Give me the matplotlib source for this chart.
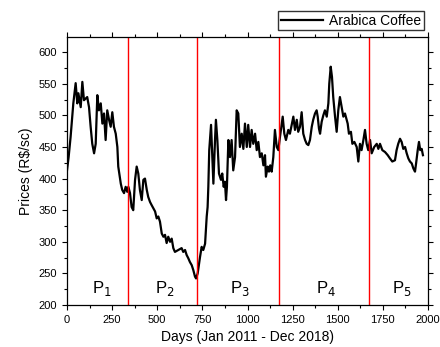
import matplotlib.pyplot as plt

plt.rcParams['font.family'] = ['Liberation Sans', 'DejaVu Sans']

# daily arabica price, sampled points (day index, R$/sc)
days = [0, 9, 20, 35, 48, 57, 63, 76, 85, 94, 112, 122, 131, 140, 150, 159, 168, 177,
        187, 196, 205, 214, 223, 233, 242, 251, 260, 270, 279, 284, 298, 306, 316, 325,
        334, 340, 349, 358, 367, 377, 386, 395, 404, 414, 423, 432, 442, 450, 460, 469,
        488, 497, 506, 515, 525, 534, 543, 552, 561, 571, 580, 589, 598, 617, 635, 644,
        654, 663, 672, 681, 691, 700, 709, 715, 724, 737, 746, 755, 765, 774, 779, 783,
        788, 798, 805, 811, 820, 825, 833, 842, 853, 860, 868, 875, 881, 886, 894, 903,
        912, 921, 931, 940, 949, 958, 968, 977, 986, 996, 1004, 1014, 1023, 1032, 1042,
        1051, 1060, 1069, 1079, 1088, 1097, 1102, 1112, 1119, 1126, 1134, 1143, 1152,
        1162, 1171, 1180, 1195, 1204, 1213, 1226, 1235, 1245, 1254, 1263, 1273, 1281,
        1291, 1300, 1309, 1319, 1328, 1337, 1346, 1356, 1364, 1374, 1383, 1389, 1396,
        1402, 1411, 1420, 1429, 1439, 1448, 1453, 1461, 1468, 1475, 1485, 1494, 1503,
        1512, 1522, 1531, 1540, 1555, 1562, 1573, 1581, 1592, 1605, 1614, 1623, 1632,
        1642, 1651, 1660, 1669, 1679, 1688, 1702, 1716, 1725, 1734, 1747, 1762, 1777,
        1789, 1802, 1817, 1826, 1835, 1845, 1854, 1863, 1873, 1882, 1891, 1900, 1910,
        1919, 1928, 1934, 1943, 1950, 1957, 1965, 1972]
prices = [413, 434, 466, 519, 551, 519, 535, 513, 553, 524, 529, 513, 482, 455, 440, 455,
          532, 508, 519, 487, 503, 461, 508, 493, 482, 505, 482, 471, 450, 419, 392, 382,
          377, 387, 379, 387, 377, 355, 350, 398, 419, 408, 382, 366, 398, 400, 382, 371,
          363, 358, 348, 337, 340, 332, 313, 308, 311, 298, 308, 300, 305, 290, 284, 287,
          290, 284, 287, 279, 274, 268, 263, 255, 245, 242, 250, 276, 292, 287, 297, 340,
          355, 387, 445, 485, 434, 392, 461, 493, 461, 408, 398, 408, 387, 395, 366, 387,
          461, 434, 461, 413, 434, 508, 503, 450, 471, 447, 487, 450, 485, 450, 477, 455,
          471, 445, 458, 434, 440, 421, 437, 403, 419, 411, 421, 411, 434, 477, 450, 445,
          466, 498, 471, 461, 477, 471, 485, 498, 477, 493, 474, 482, 505, 471, 461, 455,
          453, 461, 482, 493, 503, 508, 498, 479, 471, 490, 500, 508, 498, 519, 550, 577,
          561, 529, 498, 474, 508, 529, 513, 498, 503, 487, 471, 474, 455, 458, 450, 427,
          455, 445, 461, 477, 455, 445, 461, 440, 450, 455, 447, 455, 445, 442, 437, 432,
          427, 429, 445, 455, 463, 458, 447, 450, 440, 432, 427, 424, 416, 411, 424, 445,
          458, 445, 447, 437]

# period boundaries and labels
breaks = [338, 720, 1175, 1673]
period_x = [195, 543, 958, 1435, 1855]
period_labels = ['P$_1$', 'P$_2$', 'P$_3$', 'P$_4$', 'P$_5$']

fig = plt.figure(figsize=(4.4, 3.47), dpi=100)
ax = fig.add_axes([67 / 440, 42 / 347, 361 / 440, 268 / 347])

ax.plot(days, prices, color='black', lw=1.6, label='Arabica Coffee')
for b in breaks:
    ax.axvline(b, color='red', lw=1)
for x, lab in zip(period_x, period_labels):
    ax.text(x, 226, lab, ha='center', va='center', fontsize=12)

ax.set_xlim(0, 2000)
ax.set_ylim(200, 624)
ax.set_xticks(range(0, 2001, 250))
ax.set_xticks(range(125, 2000, 250), minor=True)
ax.set_yticks(range(200, 601, 50))
ax.set_yticks(range(225, 624, 50), minor=True)
ax.tick_params(which='both', direction='out', top=True, right=True, labelsize=8)
ax.tick_params(which='major', length=3.5, width=0.8)
ax.tick_params(which='minor', length=2, width=0.8)
for s in ax.spines.values():
    s.set_linewidth(0.9)

ax.set_xlabel('Days (Jan 2011 - Dec 2018)', fontsize=10)
ax.set_ylabel('Prices (R$/sc)', fontsize=10)

ax.legend(loc='lower right', bbox_to_anchor=(0.99, 1.025), frameon=True, fancybox=False,
          edgecolor='black', fontsize=10, handlelength=3, borderpad=0.2,
          borderaxespad=0, handletextpad=0.5)

plt.savefig('out.png', dpi=100)
